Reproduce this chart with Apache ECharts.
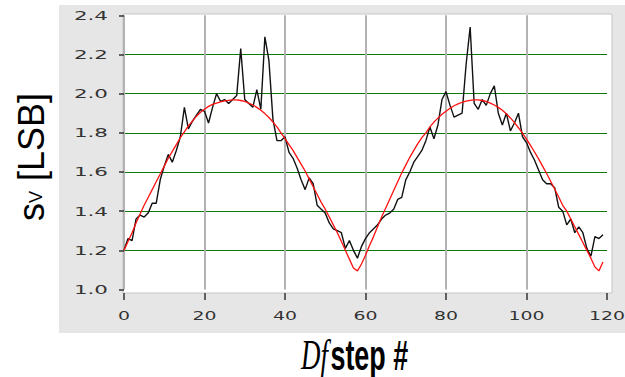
<!DOCTYPE html>
<html>
<head>
<meta charset="utf-8">
<script src="https://cdn.jsdelivr.net/npm/echarts@6/dist/echarts.min.js"></script>
<style>
html,body{margin:0;padding:0;background:#fff;}
#chart{width:625px;height:377px;}
</style>
</head>
<body>
<div id="chart"></div>
<script>
// ---- data ----
const xTicks = [0, 20, 40, 60, 80, 100, 120];
const yTicks = [1.0, 1.2, 1.4, 1.6, 1.8, 2.0, 2.2, 2.4];

// measured sigma_V per step (black)
const measured = [
  1.20, 1.26, 1.25, 1.36, 1.38, 1.37, 1.39, 1.44, 1.44, 1.56,
  1.63, 1.69, 1.65, 1.71, 1.78, 1.93, 1.82, 1.86, 1.89, 1.92,
  1.91, 1.85, 1.93, 2.00, 1.96, 1.97, 1.95, 1.97, 1.99, 2.23,
  1.97, 1.95, 1.93, 2.02, 1.92, 2.29, 2.17, 1.87, 1.76, 1.76,
  1.78, 1.70, 1.67, 1.62, 1.56, 1.51, 1.57, 1.54, 1.43, 1.41,
  1.39, 1.34, 1.31, 1.30, 1.29, 1.21, 1.25, 1.20, 1.16, 1.22,
  1.26, 1.29, 1.31, 1.33, 1.36, 1.38, 1.39, 1.41, 1.46, 1.47,
  1.56, 1.60, 1.65, 1.68, 1.71, 1.76, 1.83, 1.77, 1.84, 1.97,
  2.01, 1.94, 1.88, 1.89, 1.90, 2.15, 2.34, 1.95, 1.92, 1.97,
  1.94, 2.00, 2.04, 1.90, 1.84, 1.90, 1.81, 1.85, 1.90, 1.78,
  1.75, 1.70, 1.66, 1.61, 1.56, 1.54, 1.54, 1.52, 1.42, 1.40,
  1.33, 1.36, 1.29, 1.32, 1.29, 1.21, 1.17, 1.27, 1.26, 1.28
];

// fitted curve (red)
const fitted = [
  1.200, 1.245, 1.290, 1.340, 1.385, 1.430, 1.470, 1.510, 1.550, 1.590,
  1.630, 1.670, 1.705, 1.740, 1.775, 1.805, 1.835, 1.860, 1.885, 1.905,
  1.920, 1.935, 1.945, 1.952, 1.958, 1.963, 1.966, 1.968, 1.968, 1.965,
  1.960, 1.952, 1.942, 1.930, 1.915, 1.898, 1.878, 1.855, 1.830, 1.800,
  1.770, 1.740, 1.710, 1.675, 1.640, 1.605, 1.565, 1.525, 1.485, 1.445,
  1.410, 1.370, 1.330, 1.290, 1.245, 1.200, 1.155, 1.110, 1.095, 1.130,
  1.175, 1.225, 1.270, 1.320, 1.370, 1.415, 1.460, 1.505, 1.550, 1.595,
  1.635, 1.675, 1.710, 1.745, 1.775, 1.800, 1.830, 1.855, 1.875, 1.895,
  1.910, 1.925, 1.938, 1.948, 1.956, 1.962, 1.966, 1.968, 1.968, 1.965,
  1.960, 1.952, 1.942, 1.930, 1.915, 1.897, 1.876, 1.852, 1.826, 1.798,
  1.768, 1.736, 1.702, 1.667, 1.630, 1.592, 1.553, 1.513, 1.472, 1.430,
  1.400, 1.360, 1.320, 1.280, 1.240, 1.200, 1.160, 1.115, 1.095, 1.140
];

const steps = measured.map((_, i) => i);

// ---- chart ----
const chart = echarts.init(document.getElementById('chart'), null, {renderer: 'svg'});
const labelFont = {fontFamily: 'DejaVu Sans', fontSize: 13, color: '#333'};
const SX_Y = 1.65;
const SX_X = 1.45;

const option = {
  animation: false,
  backgroundColor: '#ffffff',
  grid: {left: 124, right: 18, top: 15.3, bottom: 87.5, containLabel: false},
  xAxis: {
    type: 'value', min: xTicks[0], max: xTicks[xTicks.length - 1], interval: 20,
    offset: 3.5,
    axisLine: {show: false},
    axisTick: {show: true, length: 7, lineStyle: {color: '#333', width: 1.5}},
    axisLabel: Object.assign({margin: 16}, labelFont),
    splitLine: {show: true, showMinLine: true, showMaxLine: false,
      lineStyle: {color: '#b2b2b2', width: 2}}
  },
  yAxis: {
    type: 'value', min: yTicks[0], max: yTicks[yTicks.length - 1], interval: 0.2,
    offset: 6,
    axisLine: {show: false},
    axisTick: {show: true, length: 5, lineStyle: {color: '#333', width: 1.5}},
    axisLabel: Object.assign({margin: 10, formatter: v => v.toFixed(1)}, labelFont),
    splitLine: {show: true, showMinLine: false, showMaxLine: false,
      lineStyle: {color: '#0a7a0a', width: 1.2}}
  },
  series: [
    {
      name: 'measured', type: 'line', showSymbol: false, symbol: 'none',
      data: steps.map((s, i) => [s, measured[i]]),
      lineStyle: {color: '#111111', width: 1.4}, z: 3
    },
    {
      name: 'fit', type: 'line', showSymbol: false, symbol: 'none', smooth: false,
      data: steps.map((s, i) => [s, fitted[i]]),
      lineStyle: {color: '#ff1010', width: 1.3}, z: 4
    }
  ],
  graphic: [
    {type: 'rect', silent: true, z: -20,
      shape: {x: 59, y: 5, width: 566, height: 328},
      style: {fill: '#e6e6e6'}},
    {type: 'rect', silent: true, z: -10,
      shape: {x: 123, y: 14, width: 489, height: 279},
      style: {fill: '#ffffff', stroke: '#c6c6c6', lineWidth: 1}},
    {type: 'text', silent: true, z: 10, x: 31, y: 157, rotation: Math.PI / 2,
      style: {
        text: '{a|s}{b|V}{a| [LSB]}',
        align: 'center', verticalAlign: 'middle', fill: '#000',
        rich: {
          a: {fontSize: 36, fontFamily: 'Liberation Sans', color: '#000', verticalAlign: 'bottom'},
          b: {fontSize: 18, fontFamily: 'Liberation Sans', color: '#000', verticalAlign: 'bottom', padding: [0, 0, 4, 0]}
        }
      }},
    {type: 'text', silent: true, z: 10, x: 301, y: 355, scaleX: 0.64,
      style: {
        text: '{d|Df}{s|step #}',
        align: 'left', verticalAlign: 'middle', fill: '#000',
        rich: {
          d: {fontFamily: 'Liberation Serif', fontStyle: 'italic', fontSize: 42, color: '#000',
            verticalAlign: 'bottom', padding: [0, 4, 0, 0]},
          s: {fontFamily: 'Liberation Sans', fontWeight: 'bold', fontSize: 42, color: '#000',
            verticalAlign: 'bottom'}
        }
      }}
  ]
};
chart.setOption(option);

// widen the tick label glyphs (the original labels are horizontally stretched)
function stretchLabels() {
  const xl = new Set(xTicks.map(String));
  const yl = new Set(yTicks.map(v => v.toFixed(1)));
  document.querySelectorAll('#chart text').forEach(t => {
    if (t.getAttribute('data-st')) return;
    const s = (t.textContent || '').trim();
    let sx = 0;
    if (yl.has(s)) sx = SX_Y; else if (xl.has(s)) sx = SX_X;
    if (!sx) return;
    const x0 = parseFloat(t.getAttribute('x') || '0') || 0;
    const old = t.getAttribute('transform') || '';
    t.setAttribute('transform', old + ' translate(' + x0 + ' 0) scale(' + sx + ' 1) translate(' + (-x0) + ' 0)');
    t.setAttribute('data-st', '1');
  });
}
stretchLabels();
chart.on('finished', stretchLabels);
</script>
</body>
</html>
